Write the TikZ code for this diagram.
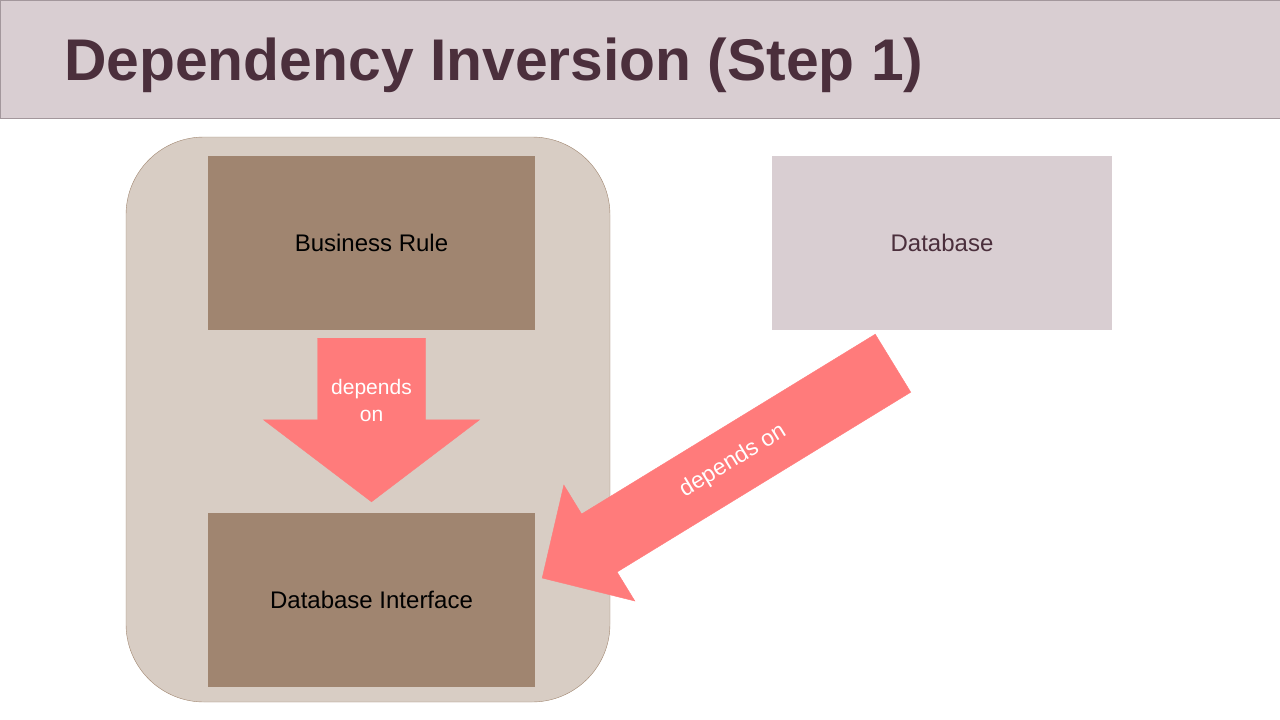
\documentclass[tikz,border=0pt]{standalone}
\usepackage{fontspec}
\setmainfont{Liberation Sans}
\usepackage{tikz}
\usetikzlibrary{calc}

\definecolor{BarFill}{HTML}{D9CED2}
\definecolor{BarLine}{HTML}{A3979C}
\definecolor{TitleInk}{HTML}{4B2F3C}
\definecolor{LayerFill}{HTML}{D8CDC4}
\definecolor{LayerLine}{HTML}{A08670}
\definecolor{BoxFill}{HTML}{A08570}
\definecolor{ArrowRed}{HTML}{FF7B7B}

\begin{document}
\begin{tikzpicture}[x=1pt, y=-1pt,
        box/.style={minimum height=174pt, inner sep=0pt, font=\fontsize{24}{28}\selectfont},
        arrowlabel/.style={text=white, inner sep=0pt, align=center, font=\fontsize{21}{27}\selectfont},
        blockarrow/.style={fill=ArrowRed, draw=ArrowRed, line width=0.4pt}]
        \useasboundingbox (0, 0) rectangle (1280, 720);

        \node (bar) at (640, 59)[draw=BarLine, fill=BarFill, minimum width=1280pt, minimum height=118pt, inner sep=0pt] {};

        \node (title) at (64, 80)[anchor=base west, inner sep=0pt, text=TitleInk, font=\fontsize{58.8}{64}\selectfont\bfseries] {Dependency Inversion (Step 1)};

        \node (layer) at (368, 419.5)[draw=LayerLine, fill=LayerFill, rounded corners=78pt, minimum width=484pt, minimum height=565pt] {};

        \node (rule) at (371.5, 243)[box, fill=BoxFill, minimum width=327pt] {Business Rule};

        \node (iface) at (371.5, 600)[box, fill=BoxFill, minimum width=327pt] {Database Interface};

        \node (db) at (942, 243)[box, fill=BarFill, text=TitleInk, minimum width=340pt] {Database};

        \coordinate (dtail) at ([yshift=-8pt]rule.south);
        \coordinate (dtip) at ([yshift=11pt]iface.north);
        \coordinate (dneck) at ($(dtip)!82pt!(dtail)$);

        \filldraw[blockarrow] ($(dtail)!54pt!90:(dtip)$) -- ($(dneck)!54pt!90:(dtip)$) -- ($(dneck)!108pt!90:(dtip)$) -- (dtip) -- ($(dneck)!108pt!-90:(dtip)$) -- ($(dneck)!54pt!-90:(dtip)$) -- ($(dtail)!54pt!-90:(dtip)$) -- cycle;

        \node (dlabel) at ($(dtail)!0.38!(dtip)$)[arrowlabel] {depends\\on};

        \coordinate (btail) at ([xshift=-49pt, yshift=-33pt]db.south);
        \coordinate (btip) at ([xshift=7pt, yshift=22pt]iface.east);
        \coordinate (bneck) at ($(btip)!67pt!(btail)$);

        \filldraw[blockarrow] ($(btail)!34pt!90:(btip)$) -- ($(bneck)!34pt!90:(btip)$) -- ($(bneck)!68pt!90:(btip)$) -- (btip) -- ($(bneck)!68pt!-90:(btip)$) -- ($(bneck)!34pt!-90:(btip)$) -- ($(btail)!34pt!-90:(btip)$) -- cycle;

        \node (blabel) at ($(btail)!0.456!(btip)$)[arrowlabel, rotate=31.5, font=\fontsize{23}{27}\selectfont] {depends on};
    \end{tikzpicture}
\end{document}
